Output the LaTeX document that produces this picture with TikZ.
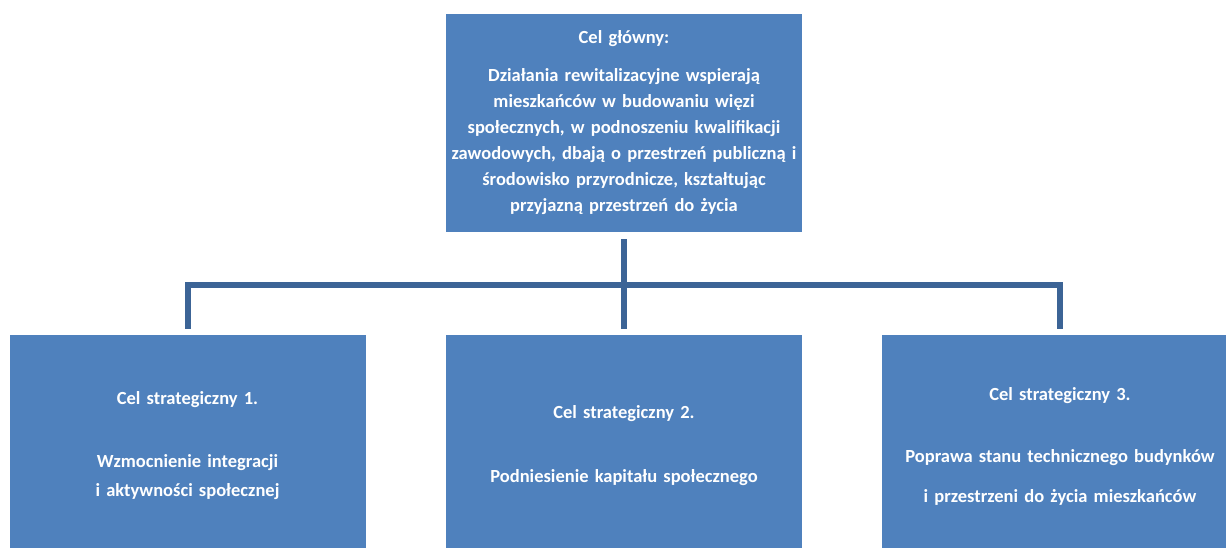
\documentclass[tikz,border=0pt]{standalone}
\usepackage{fontspec}
\setmainfont{Carlito}
\usetikzlibrary{positioning}

\definecolor{boxblue}{RGB}{79,129,189}
\definecolor{linkblue}{RGB}{60,100,150}

\tikzset{
	goal/.style={fill=boxblue, text=white, font=\bfseries\fontsize{18.5}{26}\selectfont, align=center, inner sep=0pt, minimum width=356pt, text width=356pt},
	topgoal/.style={goal, minimum height=218pt},
	subgoal/.style={goal, minimum height=222pt, font=\bfseries\fontsize{18.5}{29}\selectfont},
	link/.style={draw=linkblue, line width=6pt}
}

\begin{document}
\begin{tikzpicture}[x=1pt,y=-1pt]
	\useasboundingbox (0,0) rectangle (1226,547);
	\clip (0,0) rectangle (1226,547);
	
	\node[topgoal] (main) at (624,123) 
	{Cel główny:\\[12pt]
	Działania rewitalizacyjne wspierają\\
	mieszkańców w budowaniu więzi\\
	społecznych, w podnoszeniu kwalifikacji\\
	zawodowych, dbają o przestrzeń publiczną i\\
	środowisko przyrodnicze, kształtując\\
	przyjazną przestrzeń do życia};
	
	\node[subgoal] (cel1) at (187.5,446) 
	{Cel strategiczny 1.\\[34pt]
	Wzmocnienie integracji\\
	i aktywności społecznej};
	\node[subgoal] (cel2) at (624,446) 
	{Cel strategiczny 2.\\[35pt]
	Podniesienie kapitału społecznego};
	\node[subgoal] (cel3) at (1060,446) 
	{Cel strategiczny 3.\\[33pt]
	Poprawa stanu technicznego budynków\\[11pt]
	i przestrzeni do życia mieszkańców};
	
	\coordinate (bus) at (624,284.5);
	
	\draw[link, shorten <=7pt, shorten >=6pt] (main.south) -- (cel2.north);
	\draw[link, shorten <=6pt, shorten >=6pt] (cel1.north) |- (bus) -| (cel3.north);
	
\end{tikzpicture}
\end{document}
